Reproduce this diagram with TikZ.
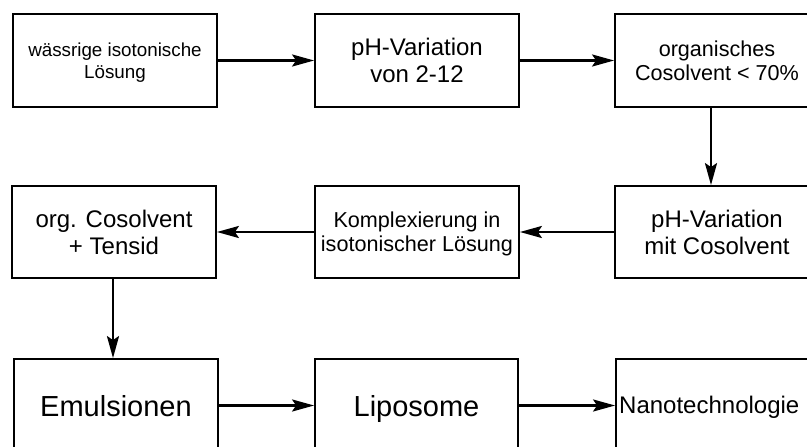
\documentclass[tikz,border=0pt]{standalone}
\usepackage{fontspec}
\setmainfont{Liberation Sans}
\usetikzlibrary{arrows.meta}
\begin{document}
\begin{tikzpicture}[x=1pt,y=-1pt,
  box/.style={draw=black, line width=1.8pt, rectangle, minimum width=204pt, minimum height=93pt, inner sep=0pt, align=center},
  conn/.style={line width=2.6pt, -{Stealth[length=22pt,width=12pt,inset=4pt]}},
  fA/.style={font=\fontsize{18.8}{22}\selectfont},
  fB/.style={font=\fontsize{24}{27}\selectfont},
  fC/.style={font=\fontsize{21.6}{24}\selectfont},
  fD/.style={font=\fontsize{29}{32}\selectfont, text height=21pt, text depth=0pt}]
\useasboundingbox (0,0) rectangle (807,447);
\clip (0,0) rectangle (807,447);
% row 1
\node[box,fA,text depth=0pt] (b1) at (115,60.5) {wässrige isotonische\\Lösung};
\node[box,fB,text depth=0pt] (b2) at (417,60.5) {pH-Variation\\von 2-12};
\node[box,fC,text depth=0pt] (b3) at (717,60.5) {organisches\\Cosolvent < 70\%};
% row 2
\node[box,fB,minimum height=92pt] (b4) at (114,232) {org. Cosolvent\\+ Tensid};
\node[box,fC,minimum height=92pt,text depth=0pt] (b5) at (417,232) {Komplexierung in\\isotonischer Lösung};
\node[box,fB,minimum height=92pt] (b6) at (717,232) {pH-Variation\\mit Cosolvent};
% row 3
\node[box,fD] (b7) at (116,405.5) {Emulsionen};
\node[box,fD,minimum width=203pt] (b8) at (416.5,405.5) {Liposome};
\node[box] (b9) at (718,405.5) {};
\node[fB,inner sep=0pt,anchor=west] (t9) at (619,407) {Nanotechnologie};
% connectors
\draw[conn] (b1.east) -- (b2.west);
\draw[conn] (b2.east) -- (b3.west);
\draw[conn] ([xshift=-6pt]b3.south) -- ([xshift=-6pt]b6.north);
\draw[conn] (b6.west) -- (b5.east);
\draw[conn] (b5.west) -- (b4.east);
\draw[conn] ([xshift=-1pt]b4.south) -- ([xshift=-1pt]b4.south |- b7.north);
\draw[conn] (b7.east) -- (b8.west);
\draw[conn] (b8.east) -- (b9.west);
\end{tikzpicture}
\end{document}
